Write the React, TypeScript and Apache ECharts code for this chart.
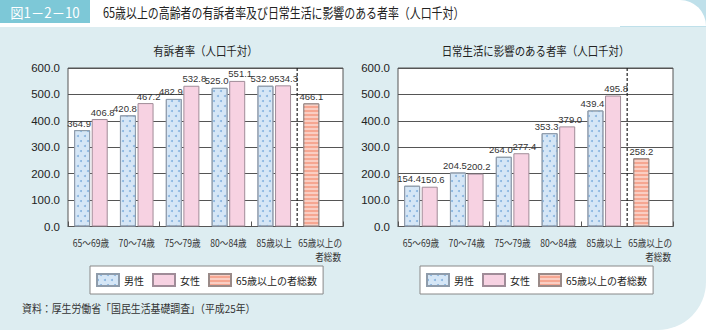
import React, { useEffect, useRef } from "react";
import * as echarts from "echarts";

const categories = ["65～69歳", "70～74歳", "75～79歳", "80～84歳", "85歳以上", "65歳以上の\n者総数"];
const yTicks = [0, 100, 200, 300, 400, 500, 600];

const leftMale = [364.9, 420.8, 482.9, 525.0, 532.9];
const leftFemale = [406.8, 467.2, 532.8, 551.1, 534.3];
const leftTotal = 466.1;

const rightMale = [154.4, 204.5, 264.0, 353.3, 439.4];
const rightFemale = [150.6, 200.2, 277.4, 379.0, 495.8];
const rightTotal = 258.2;

const seriesNames = ["男性", "女性", "65歳以上の者総数"];
const mainTitle = "65歳以上の高齢者の有訴者率及び日常生活に影響のある者率（人口千対）";
const figLabel = "図1－2－10";
const leftTitle = "有訴者率（人口千対）";
const rightTitle = "日常生活に影響のある者率（人口千対）";
const sourceText = "資料：厚生労働省「国民生活基礎調査」（平成25年）";

const JP = "'Noto Sans CJK JP', 'Noto Sans', sans-serif";
const NUM = "'Liberation Sans', Arial, sans-serif";

const maleStyle = {
  color: "#d5e6f6",
  borderColor: "#8f9cab",
  borderWidth: 1,
  decal: {
    symbol: "circle",
    symbolSize: 1,
    color: "#86b3df",
    dashArrayX: [[1.6, 4.4], [0, 3, 1.6, 1.4]],
    dashArrayY: [1.6, 2.6],
    rotation: 0,
  },
};
const femaleStyle = { color: "#f7d2e2", borderColor: "#a08c98", borderWidth: 1 };
const totalStyle = {
  color: "#f6a691",
  borderColor: "#9a8a88",
  borderWidth: 1,
  decal: {
    symbol: "rect",
    symbolSize: 1,
    color: "rgba(255,255,255,0.45)",
    dashArrayX: [1, 0],
    dashArrayY: [1.5, 1.5],
    rotation: 0,
  },
};

const labelOpt = {
  show: true,
  position: "top",
  distance: 2,
  fontSize: 9.5,
  fontFamily: NUM,
  color: "#333",
  formatter: (p: any) => Number(p.value).toFixed(1),
};

function pad(vals: number[]) {
  return [...vals, "-"];
}
function totalData(v: number) {
  return ["-", "-", "-", "-", "-", v];
}

export default function App() {
  const ref = useRef<HTMLDivElement>(null);
  useEffect(() => {
    if (!ref.current) return;
    const chart = echarts.init(ref.current, null, { renderer: "svg" });
    const grids = [
      { left: 68, top: 68, width: 275, height: 158.5 },
      { left: 398, top: 68, width: 275, height: 158.5 },
    ];
    const xAxes = grids.map((_, i) => ({
      type: "category",
      gridIndex: i,
      data: categories,
      axisLine: { show: true, lineStyle: { color: "#555" } },
      axisTick: { show: true, inside: true, length: 5, lineStyle: { color: "#555" } },
      axisLabel: { show: false },
    }));
    const yAxes = grids.map((_, i) => ({
      type: "value",
      gridIndex: i,
      min: yTicks[0],
      max: yTicks[yTicks.length - 1],
      interval: 100,
      axisLine: { show: false },
      axisTick: { show: false },
      splitLine: { show: true, lineStyle: { color: "#555", width: 1 } },
      axisLabel: {
        fontSize: 11.5,
        fontFamily: NUM,
        color: "#222",
        margin: 8,
        formatter: (v: number) => v.toFixed(1),
      },
    }));
    const mk = (i: number, male: number[], female: number[], total: number) => [
      {
        name: seriesNames[0],
        type: "bar",
        xAxisIndex: i,
        yAxisIndex: i,
        stack: "s" + i,
        data: pad(male),
        barWidth: 16,
        barGap: "10%",
        itemStyle: maleStyle,
        label: { ...labelOpt, offset: [-3, 0] },
      },
      {
        name: seriesNames[1],
        type: "bar",
        xAxisIndex: i,
        yAxisIndex: i,
        data: pad(female),
        barWidth: 16,
        barGap: "10%",
        itemStyle: femaleStyle,
        label: { ...labelOpt, offset: [3, 0] },
      },
      {
        name: seriesNames[2],
        type: "bar",
        xAxisIndex: i,
        yAxisIndex: i,
        stack: "s" + i,
        data: totalData(total),
        barWidth: 16,
        barGap: "10%",
        itemStyle: totalStyle,
        label: { ...labelOpt },
      },
    ];
    const legendBase = {
      top: 266,
      orient: "horizontal",
      data: seriesNames,
      icon: "rect",
      itemWidth: 22,
      itemHeight: 12,
      itemGap: 8,
      itemTextGap: 4,
      padding: [7, 6],
      borderColor: "#888",
      borderWidth: 1,
      backgroundColor: "#fff",
      selectedMode: false,
      textStyle: { fontSize: 10, fontFamily: JP, color: "#222" },
    };
    chart.setOption({
      animation: false,
      grid: grids.map((g) => ({ ...g, show: true, backgroundColor: "#fff", borderColor: "#555", borderWidth: 1 })),
      xAxis: xAxes,
      yAxis: yAxes,
      legend: [
        { ...legendBase, left: 90 },
        { ...legendBase, left: 420 },
      ],
      series: [...mk(0, leftMale, leftFemale, leftTotal), ...mk(1, rightMale, rightFemale, rightTotal)],
    });

    const extra: any[] = [];
    const condensedText = (text: string, x: number, y: number, fontSize: number, sx: number, align: string, fill = "#222") => ({
      type: "text",
      x,
      y,
      scaleX: sx,
      style: { text, x: 0, y: 0, align, verticalAlign: "middle", fontSize, fontFamily: JP, fill },
    });
    [0, 1].forEach((i) => {
      const yTop = chart.convertToPixel({ yAxisIndex: i }, yTicks[yTicks.length - 1]) as number;
      const yBot = chart.convertToPixel({ yAxisIndex: i }, yTicks[0]) as number;
      const xs = categories.map((c) => chart.convertToPixel({ xAxisIndex: i }, c) as number);
      const xm = (xs[4] + xs[5]) / 2;
      extra.push({
        type: "line",
        z: 100,
        shape: { x1: xm, y1: yTop, x2: xm, y2: yBot },
        style: { stroke: "#222", lineWidth: 1.2, lineDash: [3, 2] },
      });
      categories.forEach((c, j) => {
        const lines = c.split("\n");
        extra.push(condensedText(lines[0], xs[j], yBot + 16, 10, 0.86, "center", "#333"));
        if (lines[1]) extra.push(condensedText(lines[1], xs[j] + 8, yBot + 30, 10, 0.86, "center", "#333"));
      });
    });
    const g0 = grids[0];
    const g1 = grids[1];
    chart.setOption({
      graphic: [
        { type: "rect", z: -10, shape: { x: 0, y: 27, width: 706, height: 303, r: [0, 0, 48, 0] }, style: { fill: "#ddedf1" } },
        { type: "rect", z: -9, shape: { x: 620, y: 0, width: 86, height: 27 }, style: { fill: "#bfe0ea" } },
        { type: "rect", z: -8, shape: { x: 0, y: 0, width: 706, height: 26, r: [0, 40, 0, 0] }, style: { fill: "#fff" } },
        { type: "rect", z: -7, shape: { x: 0, y: 0, width: 90, height: 23 }, style: { fill: "#7dc8d7" } },
        {
          type: "text",
          z: -6,
          x: 45,
          y: 12,
          scaleX: 0.95,
          style: { text: figLabel, x: 0, y: 0, align: "center", verticalAlign: "middle", fontSize: 14, fontFamily: JP, fill: "#fff" },
        },
        condensedText(mainTitle, 103, 12, 14, 0.78, "left", "#222"),
        condensedText(leftTitle, g0.left + g0.width / 2, 51, 12, 0.87, "center", "#222"),
        condensedText(rightTitle, g1.left + g1.width / 2, 51, 12, 0.87, "center", "#222"),
        condensedText(sourceText, 22, 308, 11, 0.9, "left", "#333"),
        ...extra,
      ],
    });
    return () => chart.dispose();
  }, []);
  return (
    <div style={{ position: "fixed", left: 0, top: 0, width: 706, height: 330, background: "#fff" }}>
      <div ref={ref} style={{ width: 706, height: 330 }} />
    </div>
  );
}
